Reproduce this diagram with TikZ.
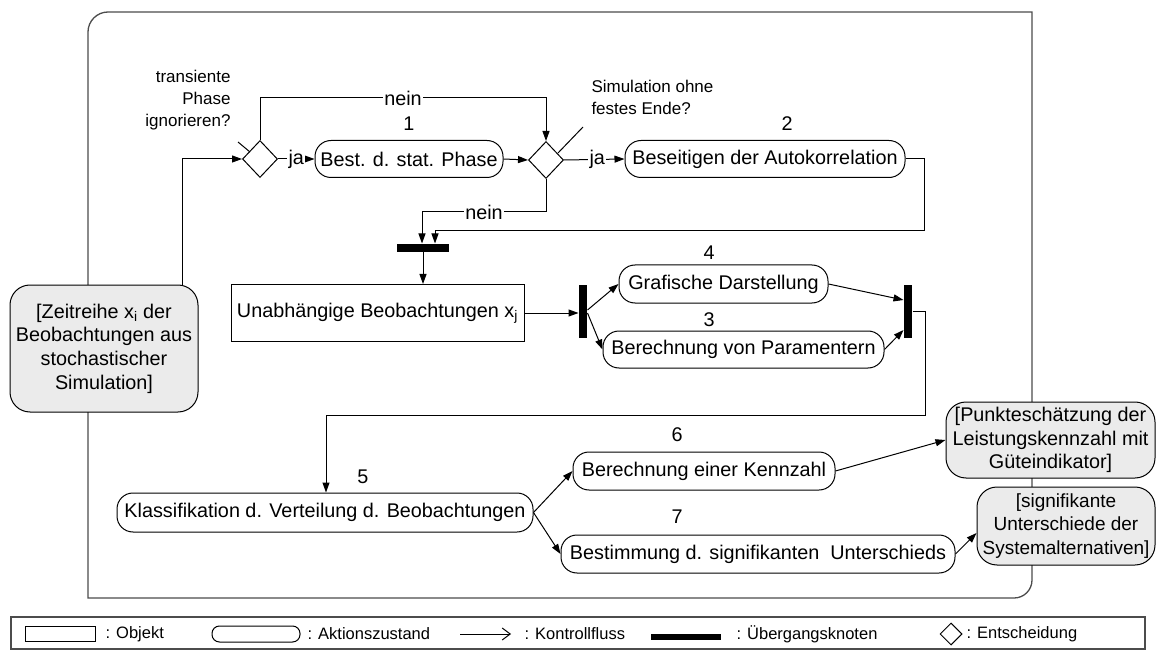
\documentclass[tikz,border=0pt]{standalone}
\usepackage{fontspec}
\setmainfont{Liberation Sans}
\usetikzlibrary{arrows.meta,shapes.geometric,calc}

\tikzset{
  every node/.style={font=\fontsize{19.8}{23.7}\selectfont},
  act/.style={draw, rounded corners=16pt, minimum height=37pt, inner sep=2pt},
  objbox/.style={draw, rectangle, inner sep=2pt},
  objg/.style={draw, fill=black!8, rounded corners=20pt, align=center, inner sep=1pt},
  dec/.style={draw, diamond, inner sep=0pt, minimum width=35pt, minimum height=37pt},
  syncbar/.style={fill=black, inner sep=0pt},
  flow/.style={-{Triangle[length=10pt,width=7pt]}},
  lab/.style={fill=white, inner sep=1.5pt},
  note/.style={font=\fontsize{17}{22}\selectfont, inner sep=0pt},
  frame/.style={draw=black!70, line width=1.3pt},
  lfont/.style={font=\fontsize{16.5}{20}\selectfont, inner sep=0pt, anchor=west},
}

\begin{document}
\begin{tikzpicture}[x=1pt,y=-1pt,line width=1pt]
\useasboundingbox (0,0) rectangle (1157,655);

% activity frame
\draw[frame] (88,598) -- (88,32) .. controls (88,21) and (97,12) .. (108,12)
  -- (1032,12) -- (1032,580) .. controls (1032,590) and (1024,598) .. (1014,598) -- cycle;

% decisions and actions
\node[dec] (d1) at (260,159) {};
\node[act, minimum width=188pt] (b1) at (409,159) {Best. d. stat. Phase};
\node[dec] (d2) at (546,160) {};
\node[act, minimum width=280pt] (b2) at (765,159) {Beseitigen der Autokorrelation};
\node[syncbar, minimum width=52pt, minimum height=8pt] (bar1) at (423,248) {};
\node[objbox, minimum width=293pt, minimum height=57pt] (unab) at (377.5,313) {Unabhängige Beobachtungen x\textsubscript{j}};
\node[syncbar, minimum width=8pt, minimum height=53pt] (bar2) at (583,311.5) {};
\node[act, minimum width=209pt, minimum height=38pt] (b4) at (723.5,284) {Grafische Darstellung};
\node[act, minimum width=281pt] (b3) at (743.5,349.5) {Berechnung von Paramentern};
\node[syncbar, minimum width=8pt, minimum height=53pt] (bar3) at (908,311.5) {};
\node[act, minimum width=416pt, minimum height=39pt] (b5) at (325,512.5) {Klassifikation d. Verteilung d. Beobachtungen};
\node[act, minimum width=262pt, minimum height=38pt] (b6) at (704,471) {Berechnung einer Kennzahl};
\node[act, minimum width=394pt, minimum height=38pt] (b7) at (758,554) {Bestimmung d. signifikanten\ \ Unterschieds};

% object nodes
\node[objg, minimum width=188pt, minimum height=127pt] (src) at (104,348.5)
  {[Zeitreihe x\textsubscript{i} der\\Beobachtungen aus\\stochastischer\\Simulation]};
\node[objg, minimum width=209pt, minimum height=76pt] (pe) at (1050.5,440)
  {[Punkteschätzung der\\Leistungskennzahl mit\\Güteindikator]};
\node[objg, minimum width=178pt, minimum height=78pt, font=\fontsize{19}{23.5}\selectfont] (su) at (1066,526)
  {[signifikante\\Unterschiede der\\Systemalternativen]};

% step numbers
\node (n1) at (409,124) {1};
\node (n2) at (787,124) {2};
\node (n4) at (709,253) {4};
\node (n3) at (709,320) {3};
\node (n5) at (363,477) {5};
\node (n6) at (677,435) {6};
\node (n7) at (677,517) {7};

% decision questions
\node[note, align=right, anchor=east] (q1) at (231,100) {transiente\\Phase\\ignorieren?};
\node[note, align=left, anchor=west] (q2) at (591,97.5) {Simulation ohne\\festes Ende?};
\draw ($(d1.center)+(-22,-17)$) -- ($(d1.center)+(-10,-7)$);
\draw ($(d2.center)+(12,-7)$) -- ($(d2.center)+(37,-33)$);

% control flow
\draw[flow] ($(src.north)+(78,0)$) |- (d1.west);
\draw[flow] (d1.east) -- node[lab]{ja} (b1.west);
\draw[flow] (d1.north) -- ++(0,-42) -| node[lab,pos=0.25]{nein} (d2.north);
\draw[flow] (b1.east) -- (d2.west);
\draw[flow] (d2.east) -- node[lab,pos=0.55]{ja} (b2.west);
\draw[flow] (d2.south) -- ++(0,33) -| node[lab,pos=0.25]{nein} ($(bar1.north)+(-1,0)$);
\draw[flow] (b2.east) -- ++(19,0) -- ++(0,72) -| ($(bar1.north)+(12,0)$);
\draw[flow] (bar1.south) -- (bar1.south |- unab.north);
\draw[flow] (unab.east) -- (unab.east -| bar2.west);
\draw[flow] ($(bar2.east)+(0,-1.5)$) -- (b4.west);
\draw[flow] ($(bar2.east)+(0,1.5)$) -- (b3.west);
\draw[flow] (b4.east) -- ($(bar3.west)+(0,-11.5)$);
\draw[flow] (b3.east) -- ($(bar3.west)+(0,18.5)$);
\draw[flow] (bar3.east) -- ++(13,0) -- ++(0,103.5) -| ($(b5.north)+(1,0)$);
\draw[flow] (b5.east) -- (b6.west);
\draw[flow] (b5.east) -- (b7.west);
\draw[flow] (b6.east) -- (pe.west);
\draw[flow] (b7.east) -- ($(su.west)+(0,7)$);

% legend
\node[draw=black!70, line width=1.2pt, minimum width=1134pt, minimum height=32pt, inner sep=0pt] (legend) at (578,633) {};
\node[draw, minimum width=70pt, minimum height=15pt, inner sep=0pt] (lobj) at (60,633.5) {};
\node[lfont] (tobj) at (105,634) {: Objekt};
\node[draw, rounded corners=7.5pt, minimum width=88pt, minimum height=16pt, inner sep=0pt] (lact) at (256,634) {};
\node[lfont] (tact) at (307,634) {: Aktionszustand};
\coordinate (la1) at (460,634);
\coordinate (la2) at (511,634);
\draw[-{Straight Barb[length=8pt,width=12pt]}] (la1) -- (la2);
\node[lfont] (tflow) at (524,634) {: Kontrollfluss};
\node[syncbar, minimum width=70pt, minimum height=6pt] (lbar) at (686,637) {};
\node[lfont] (tbar) at (736,634) {: Übergangsknoten};
\node[draw, diamond, inner sep=0pt, minimum width=22pt, minimum height=22pt] (ldec) at (951,634) {};
\node[lfont] (tdec) at (966,634) {: Entscheidung};
\end{tikzpicture}
\end{document}
